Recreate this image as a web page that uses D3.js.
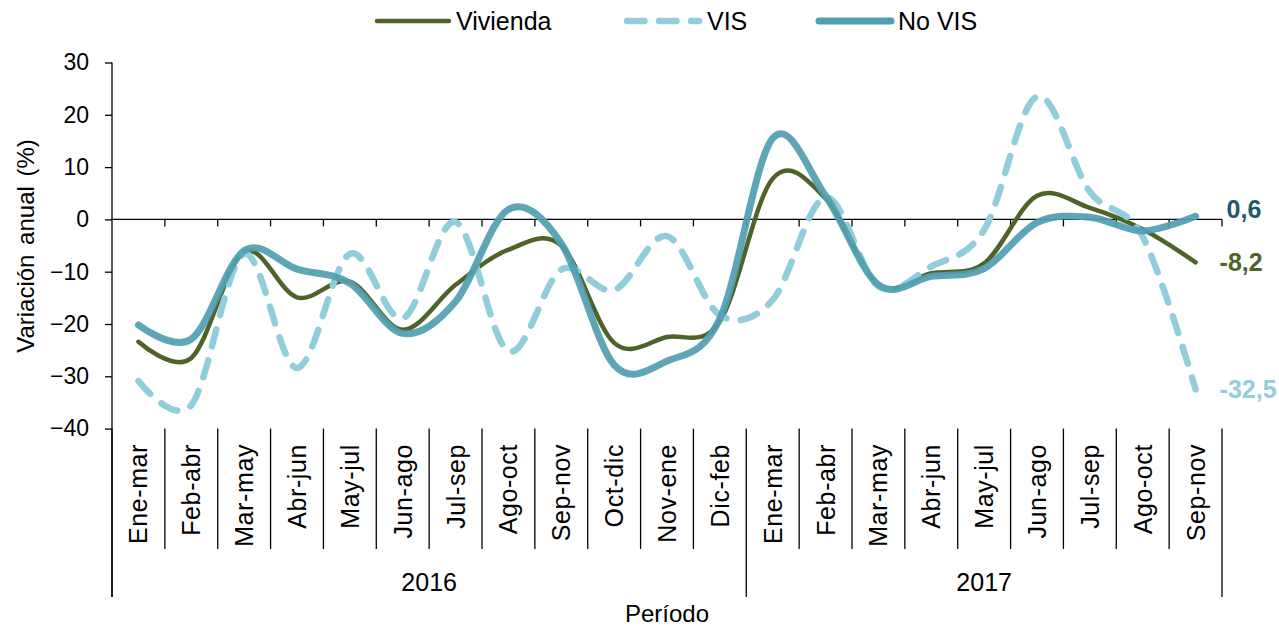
<!DOCTYPE html>
<html lang='es'>
	<head>
		<meta charset='utf-8'>
		<title>Variación anual vivienda</title>
		<script type='text/javascript' src='https://d3js.org/d3.v7.min.js'></script>
		<style type='text/css'>
			body {
				margin: 0;
				background: white;
			}
			text {
				font-family: 'Liberation Sans', Arial, sans-serif;
				fill: #000;
			}
			.axis path, .axis line {
				stroke: #000;
				stroke-width: 1.3;
			}
		</style>
	</head>
	<body>
		<script type='text/javascript'>
			var periods = ['Ene-mar', 'Feb-abr', 'Mar-may', 'Abr-jun', 'May-jul', 'Jun-ago', 'Jul-sep',
				'Ago-oct', 'Sep-nov', 'Oct-dic', 'Nov-ene', 'Dic-feb',
				'Ene-mar', 'Feb-abr', 'Mar-may', 'Abr-jun', 'May-jul', 'Jun-ago', 'Jul-sep', 'Ago-oct', 'Sep-nov'];
			var years = ['2016', '2017'];
			var yearCounts = [12, 9];

			var vivienda = [-23.4, -26.5, -6.2, -14.9, -11.9, -21.1, -12.5, -5.8, -5.0, -23.6, -22.5,
				-19.5, 7.8, 4.0, -12.5, -10.3, -8.4, 4.5, 2.2, -1.9, -8.2];
			var vis = [-30.9, -35.5, -6.6, -28.4, -6.6, -18.9, -0.5, -25.2, -9.6, -13.5, -3.2,
				-18.3, -15.4, 4.2, -12.8, -9.0, -2.0, 23.5, 5.3, -3.3, -32.5];
			var noVis = [-20.2, -22.9, -6.0, -9.5, -12.2, -21.8, -15.7, 1.9, -4.6, -27.8, -27.1,
				-19.0, 15.5, 4.5, -12.5, -10.9, -9.4, -0.6, 0.4, -2.2, 0.6];

			var yTicks = [-40, -30, -20, -10, 0, 10, 20, 30];

			var w = 1279;
			var h = 628;

			var series = [
				{ name: 'Vivienda', values: vivienda, color: '#4f6228', width: 4.5, dash: null, label: '-8,2', labelColor: '#4f6228' },
				{ name: 'VIS', values: vis, color: '#92cddc', width: 6.5, dash: '17.5 14.5', label: '-32,5', labelColor: '#92cddc' },
				{ name: 'No VIS', values: noVis, color: '#529fb1', width: 7, dash: null, label: '0,6', labelColor: '#215968' }
			];

			var svg = d3.select('body')
				.append('svg')
				.attr('width', w)
				.attr('height', h);

			var xScale = d3.scaleBand()
				.domain(d3.range(periods.length))
				.range([112, 1222]);

			var yScale = d3.scaleLinear()
				.domain([-40, 30])
				.range([428.6, 62.5]);

			var xc = function(i) { return xScale(i) + xScale.bandwidth() / 2; };

			// y axis
			var yAxis = d3.axisLeft(yScale)
				.tickValues(yTicks)
				.tickSize(7)
				.tickPadding(16)
				.tickFormat(d3.format('d'));

			var gy = svg.append('g')
				.attr('class', 'axis')
				.attr('transform', 'translate(112,0)')
				.call(yAxis);
			gy.select('.domain').remove();
			gy.selectAll('text')
				.style('font-size', '23px')
				.attr('fill', '#000');

			// vertical axis line goes down through the category area
			svg.append('line')
				.attr('x1', 112).attr('x2', 112)
				.attr('y1', yScale(30)).attr('y2', 597)
				.attr('stroke', '#000').attr('stroke-width', 1.3);

			// zero line with ticks
			svg.append('line')
				.attr('x1', 112).attr('x2', 1222)
				.attr('y1', yScale(0)).attr('y2', yScale(0))
				.attr('stroke', '#000').attr('stroke-width', 1.3);

			var bounds = d3.range(periods.length + 1).map(function(i) {
				return i < periods.length ? xScale(i) : xScale.range()[1];
			});

			svg.selectAll('.zeroTick')
				.data(bounds.slice(1))
				.enter()
				.append('line')
				.attr('x1', function(d) { return d; })
				.attr('x2', function(d) { return d; })
				.attr('y1', yScale(0))
				.attr('y2', yScale(0) + 7)
				.attr('stroke', '#000').attr('stroke-width', 1.3);

			// category separators
			var yearBounds = [0];
			yearCounts.forEach(function(c, i) { yearBounds.push(yearBounds[i] + c); });

			svg.selectAll('.catLine')
				.data(d3.range(periods.length + 1))
				.enter()
				.append('line')
				.attr('x1', function(d) { return bounds[d]; })
				.attr('x2', function(d) { return bounds[d]; })
				.attr('y1', yScale(-40))
				.attr('y2', function(d) { return yearBounds.indexOf(d) >= 0 ? 597 : 549; })
				.attr('stroke', '#000').attr('stroke-width', 1.3);

			svg.selectAll('.catLabel')
				.data(periods)
				.enter()
				.append('text')
				.attr('transform', function(d, i) { return 'translate(' + xc(i) + ',444) rotate(-90)'; })
				.attr('text-anchor', 'end')
				.attr('dy', '0.36em')
				.style('font-size', '25px')
				.style('letter-spacing', '0.6px')
				.text(function(d) { return d; });

			svg.selectAll('.yearLabel')
				.data(years)
				.enter()
				.append('text')
				.attr('x', function(d, i) { return (bounds[yearBounds[i]] + bounds[yearBounds[i + 1]]) / 2; })
				.attr('y', 591)
				.attr('text-anchor', 'middle')
				.style('font-size', '25px')
				.text(function(d) { return d; });

			// axis titles
			svg.append('text')
				.attr('x', 667)
				.attr('y', 622)
				.attr('text-anchor', 'middle')
				.style('font-size', '24px')
				.text('Período');

			svg.append('text')
				.attr('transform', 'translate(25,246) rotate(-90)')
				.attr('text-anchor', 'middle')
				.attr('dy', '0.36em')
				.style('font-size', '24px')
				.style('word-spacing', '3px')
				.text('Variación anual (%)');

			// lines
			var line = d3.line()
				.x(function(d, i) { return xc(i); })
				.y(function(d) { return yScale(d); })
				.curve(d3.curveCardinal.tension(0));

			svg.selectAll('.series')
				.data(series)
				.enter()
				.append('path')
				.attr('d', function(d) { return line(d.values); })
				.attr('fill', 'none')
				.attr('stroke', function(d) { return d.color; })
				.attr('stroke-width', function(d) { return d.width; })
				.attr('stroke-dasharray', function(d) { return d.dash; })
				.attr('stroke-linecap', 'round')
				.attr('stroke-linejoin', 'round')
				.attr('opacity', function(d) { return d.name === 'No VIS' ? 0.93 : 1; });

			// end labels
			var last = periods.length - 1;
			svg.selectAll('.endLabel')
				.data(series)
				.enter()
				.append('text')
				.attr('x', function(d) { return xc(last) + (d.name === 'No VIS' ? 31 : 24); })
				.attr('y', function(d) { return yScale(d.values[last]) + (d.name === 'No VIS' ? 2 : 8.5); })
				.style('fill', function(d) { return d.labelColor; })
				.style('font-size', '25px')
				.style('font-weight', 'bold')
				.text(function(d) { return d.label; });

			// legend
			var legendX = [377, 627, 819];
			var legend = svg.selectAll('.legend')
				.data(series)
				.enter()
				.append('g')
				.attr('transform', function(d, i) { return 'translate(' + legendX[i] + ',21)'; });

			legend.append('line')
				.attr('x1', 0).attr('x2', 72)
				.attr('y1', 0).attr('y2', 0)
				.attr('stroke', function(d) { return d.color; })
				.attr('stroke-width', function(d) { return d.width; })
				.attr('stroke-dasharray', function(d) { return d.dash; })
				.attr('stroke-linecap', 'round');

			legend.append('text')
				.attr('x', function(d) { return d.name === 'VIS' ? 80 : 79; })
				.attr('y', 8.5)
				.style('font-size', '25px')
				.text(function(d) { return d.name; });
		</script>
	</body>
</html>
